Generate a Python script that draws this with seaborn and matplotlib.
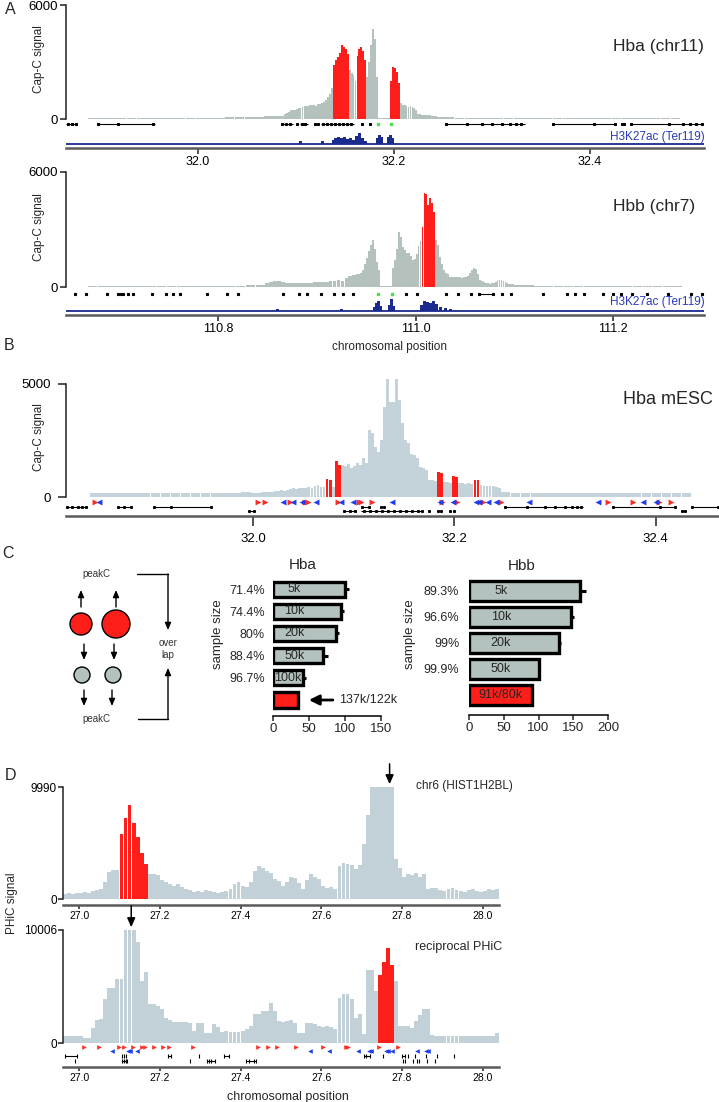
import numpy as np
import pandas as pd
import matplotlib
matplotlib.use("Agg")
import matplotlib.pyplot as plt
import seaborn as sns
from matplotlib.patches import Circle

sns.set_theme(style="ticks")
plt.rcParams["font.family"] = ["Liberation Sans", "DejaVu Sans"]

# ======================= DATA =======================
# ---- Panel A, Hba (chr11) Cap-C signal: (start Mb, bin Mb, values)
hba_left_start, hba_left_bin = 31.888, 0.01
hba_left = [45, 45, 50, 45, 50, 50, 50, 55, 55, 60, 60, 65, 70, 75, 80, 90, 100, 120, 150, 180]
hba_core_start, hba_core_bin = 32.088, 0.002
hba_core = [250, 300, 380, 450, 470, 500,
            540, 560, 600, 640, 660, 680,
            700, 720, 740, 760, 700, 780,
            800, 820, 900, 1000, 1170, 1300, 1610,
            2840, 3100, 3270, 3500, 3890, 3800, 3680, 3400,
            2580, 2400, 2300, 2000,
            3300, 3700, 3790, 3600, 3100,
            2200, 3000, 3900, 4740, 4200, 2200,
            60, 50, 50, 60, 50, 60,
            2000, 2740, 2700, 2500, 1900,
            850, 760, 740, 700, 640, 660, 620, 560, 500,
            260, 240, 230, 220, 210, 200, 200, 180, 160, 150, 130, 110, 100, 90]
hba_right_start, hba_right_bin = 32.252, 0.01
hba_right = [80, 75, 70, 70, 65, 65, 60, 60, 60, 55, 55, 55, 55, 50, 50, 50, 50, 50, 50, 45, 45, 45, 45, 45]
hba_red = [(32.138, 32.154), (32.162, 32.172), (32.196, 32.206)]
hba_xticks = [32.0, 32.2, 32.4]
hba_chip_pos = [32.105, 32.127, 32.138, 32.141, 32.144, 32.147, 32.150, 32.153, 32.156, 32.159,
                32.162, 32.165, 32.168, 32.171, 32.183, 32.185, 32.187, 32.195, 32.197, 32.199]
hba_chip_val = [3, 3, 4, 6, 7, 6, 7, 5, 6, 4, 8, 11, 6, 3, 6, 9, 7, 7, 9, 6]
hba_gene_lines = [(31.866, 31.877), (31.898, 31.957), (32.085, 32.097), (32.104, 32.113),
                  (32.119, 32.124), (32.126, 32.159), (32.252, 32.334), (32.361, 32.426),
                  (32.441, 32.516)]
hba_gene_exons = [31.868, 31.872, 31.876, 31.899, 31.919, 31.955, 32.086, 32.090, 32.094,
                  32.101, 32.106, 32.110, 32.120, 32.123, 32.128, 32.132, 32.136, 32.140,
                  32.144, 32.148, 32.152, 32.156, 32.168, 32.176, 32.253, 32.275, 32.290,
                  32.300, 32.310, 32.318, 32.324, 32.330, 32.362, 32.404, 32.425, 32.432,
                  32.434, 32.442, 32.480, 32.495, 32.502, 32.508, 32.514]
hba_gene_green = [32.184, 32.197]

# ---- Panel A, Hbb (chr7)
hbb_left_start, hbb_left_bin = 110.668, 0.01
hbb_left = [40, 45, 45, 50, 50, 50, 55, 50, 50, 55, 50, 55, 60, 60, 65, 70, 90, 120]
hbb_mid_start, hbb_mid_bin = 110.848, 0.004
hbb_mid = [200, 260, 300, 310, 280, 220, 200, 210, 200, 220, 230, 220, 240, 250, 260, 240,
           300, 320, 340, 330, 450, 600, 650, 700]
hbb_core_start, hbb_core_bin = 110.944, 0.002
hbb_core = [730, 900, 1200, 1500, 1900, 2200, 2450,
            2000, 1300, 890,
            40, 40, 40, 40, 40, 40,
            1000, 1400, 2000, 2870, 2600, 2100, 1930,
            1800, 1770, 1600, 1400, 1450, 1700, 2140, 2400,
            3130, 4900, 4850, 4300, 4640, 4380, 3900,
            2450, 2200, 1560, 1200, 900, 730, 700,
            520, 520, 500, 540, 520, 500, 480, 500, 520, 560,
            750, 900, 990, 950, 700,
            360, 300, 250, 200, 200, 180, 200, 220,
            280, 340, 360, 350, 300, 250, 200,
            150, 150, 140, 130, 120, 110, 100, 90]
hbb_right_start, hbb_right_bin = 111.110, 0.01
hbb_right = [80, 70, 60, 60, 55, 55, 50, 50, 50, 50, 45, 45, 45, 45, 45, 40]
hbb_red = [(111.006, 111.020)]
hbb_xticks = [110.8, 111.0, 111.2]
hbb_chip_pos = [110.860, 110.925, 110.958, 110.960, 110.962, 110.964, 110.974, 110.976, 110.978,
                111.006, 111.009, 111.012, 111.015, 111.018, 111.021, 111.025, 111.030, 111.035]
hbb_chip_val = [2, 2, 4, 8, 10, 5, 6, 12, 5, 6, 10, 9, 8, 10, 7, 4, 3, 2]
hbb_gene_dots = [110.655, 110.666, 110.688, 110.699, 110.702, 110.704, 110.709, 110.714,
                 110.733, 110.747, 110.754, 110.761, 110.789, 110.809, 110.820, 110.866,
                 110.882, 110.890, 110.904, 110.917, 110.926, 110.937, 110.990, 111.001,
                 111.031, 111.043, 111.056, 111.064, 111.078, 111.087, 111.097, 111.129,
                 111.153, 111.161, 111.171, 111.190, 111.200, 111.208, 111.219, 111.234,
                 111.256, 111.279, 111.290]
hbb_gene_lines = [(111.064, 111.078)]
hbb_gene_green = [110.962, 110.976]

# ---- Panel B, Hba mESC
mesc_left_start, mesc_left_bin = 31.838, 0.01
mesc_left = [180, 180, 170, 180, 170, 180, 180, 170, 180, 180, 190, 180, 190, 180, 190, 200, 190, 200]
mesc_core_start, mesc_core_bin = 32.018, 0.003
mesc_core = [220, 260, 260, 300, 280, 320,
             360, 380, 370, 390, 380, 400, 420, 380,
             490, 520, 460, 450,
             800, 760,
             450,
             1580, 1400,
             1400, 1350, 1450, 1300, 1350, 1500, 1400,
             1720, 1500,
             2960, 2800,
             2200, 2000,
             2500, 3980,
             5200, 4200,
             4200, 5200,
             4290, 3270,
             2500, 2400,
             1900, 1860, 1700,
             1330, 1300, 1200,
             750, 760, 700,
             1100, 1050,
             660, 650, 620,
             930, 900,
             600, 620, 580, 600, 590,
             750, 740,
             520, 500, 480, 500, 470, 450, 400]
mesc_right_start, mesc_right_bin = 32.246, 0.01
mesc_right = [200, 190, 180, 180, 170, 180, 190, 180, 180, 170, 180, 160, 170, 180, 170, 170, 160, 170, 160]
mesc_red = [(32.072, 32.078), (32.081, 32.087), (32.183, 32.189), (32.198, 32.204), (32.219, 32.225)]
mesc_xticks = [32.0, 32.2, 32.4]
mesc_motif_fwd = [31.843, 32.005, 32.012, 32.037, 32.052, 32.055, 32.084, 32.105, 32.107, 32.118,
                  32.188, 32.203, 32.228, 32.246, 32.353, 32.378, 32.403, 32.415]
mesc_motif_rev = [31.847, 32.030, 32.040, 32.049, 32.062, 32.087, 32.099, 32.138, 32.186, 32.199,
                  32.221, 32.224, 32.233, 32.241, 32.274, 32.343, 32.387, 32.400]
mesc_gene_lines_up = [(31.814, 31.835), (31.865, 31.880), (31.900, 31.959), (32.107, 32.116),
                      (32.126, 32.131), (32.249, 32.328), (32.357, 32.420), (32.435, 32.463)]
mesc_gene_exons_up = [31.815, 31.820, 31.826, 31.830, 31.834, 31.866, 31.872, 31.879, 31.901,
                      31.918, 31.958, 32.108, 32.115, 32.127, 32.130, 32.250, 32.272, 32.290,
                      32.300, 32.310, 32.317, 32.322, 32.326, 32.358, 32.404, 32.419, 32.436, 32.462]
mesc_gene_lines_lo = [(31.995, 32.002), (32.089, 32.102), (32.107, 32.169), (32.425, 32.430)]
mesc_gene_exons_lo = [31.996, 32.001, 32.090, 32.096, 32.101, 32.110, 32.116, 32.122, 32.128,
                      32.134, 32.140, 32.146, 32.152, 32.158, 32.164, 32.168, 32.175, 32.184,
                      32.187, 32.196, 32.200, 32.426, 32.429]

# ---- Panel C, peak fragments per sample size
hba_cat = ["5k", "10k", "20k", "50k", "100k", "137k/122k"]
hba_frag = [100, 95, 88, 70, 42, 35]
hba_err = [5, 4, 4, 6, 4, 0]
hba_pct = ["71.4%", "74.4%", "80%", "88.4%", "96.7%", ""]
hbb_cat = ["5k", "10k", "20k", "50k", "91k/80k"]
hbb_frag = [159, 147, 130, 100, 90]
hbb_err = [10, 4, 2, 1, 0]
hbb_pct = ["89.3%", "96.6%", "99%", "99.9%", ""]

# ---- Panel D, PHiC signal (bins of 0.01 Mb from 26.96 Mb)
phic_start, phic_bin = 26.96, 0.01
phic_top = [450, 500, 450, 500,
            500, 600, 550, 700, 800,
            900, 1500,
            2400, 2600, 2600,
            5800, 7200, 8350, 6800, 5500, 4100, 3100,
            2200, 2200, 2100,
            1700, 1500, 1300,
            1200, 1300, 1100, 900, 800,
            600, 700, 600, 800, 700, 600,
            500, 600, 700, 900, 1300, 1500,
            1200, 1100, 1500,
            2500, 2900, 2800, 2500, 2300,
            1800, 1600, 1200,
            1500, 2000, 1900,
            1400, 900, 1700,
            2200, 2000, 1800,
            1200, 1000, 1100, 900,
            2900, 3200, 3100, 3000,
            2700, 3000,
            4900, 7500,
            9990, 9990, 9990, 9990, 9990, 9990,
            3600,
            2800, 2000,
            2200, 2100, 2300, 2000, 2200,
            900, 1000,
            1000, 800, 700, 900, 1000, 800, 700, 600, 800, 900, 700, 600, 700, 900, 800, 900]
phic_top_red = [(27.10, 27.17)]
phic_bot = [620, 620, 650, 600, 620,
            450, 450,
            1340,
            2000, 2140,
            3930,
            4900, 4900,
            5700, 5700,
            10006, 10006, 10006,
            8900,
            5500, 6250,
            3480, 3480, 3300, 3000,
            2230, 2000,
            1870, 1900, 1850, 1870, 1800,
            1070,
            1790, 1790,
            900, 900,
            1700, 1400,
            1000, 1050, 1000, 950, 1000, 1100, 1200,
            1500, 2590, 2590, 2860, 2860, 3570, 2800,
            1960, 1900, 1960, 2000, 1800,
            890, 890,
            1790, 1800, 1700,
            1500, 1450, 1500, 1400, 1200,
            4000, 4380, 4300, 3900,
            2230, 2590, 800,
            6430, 6430, 4640,
            5980, 7140, 8390, 6870,
            5530,
            1520, 1520, 1500, 1340,
            1960, 2500, 3040, 3040,
            700, 650, 620, 600, 620, 650, 600, 580, 600, 620, 650, 600, 620, 600, 580, 600, 890]
phic_bot_red = [(27.74, 27.78)]
phic_xticks = [27.0, 27.2, 27.4, 27.6, 27.8, 28.0]
phic_motif_fwd = [27.012, 27.049, 27.099, 27.111, 27.134, 27.156, 27.163, 27.186, 27.208, 27.223,
                  27.283, 27.444, 27.469, 27.491, 27.536, 27.603, 27.660, 27.667, 27.742, 27.791]
phic_motif_rev = [27.082, 27.121, 27.126, 27.144, 27.573, 27.618, 27.690, 27.717, 27.722,
                  27.759, 27.764, 27.776, 27.838, 27.858, 27.863]
phic_gene_lines_1 = [(26.965, 26.995), (27.221, 27.228), (27.360, 27.372), (27.705, 27.720),
                     (27.799, 27.806)]
phic_gene_ticks_1 = [26.965, 26.995, 27.106, 27.111, 27.116, 27.221, 27.228, 27.298, 27.360,
                     27.372, 27.705, 27.710, 27.720, 27.752, 27.799, 27.806, 27.814, 27.831,
                     27.859, 27.886, 27.928]
phic_gene_lines_2 = [(27.106, 27.119), (27.317, 27.337), (27.414, 27.439)]
phic_gene_ticks_2 = [26.990, 27.106, 27.110, 27.116, 27.119, 27.275, 27.317, 27.322, 27.327,
                     27.337, 27.414, 27.420, 27.434, 27.439, 27.801, 27.806, 27.826, 27.838,
                     27.841, 27.862, 27.881]

# ======================= STYLE =======================
GRAY_A = "#b5c1bd"
GRAY_B = "#c4d3da"
GRAY_D = "#c2d0d8"
BAR_GRAY = "#b4c2bf"
RED = "#ff1f1a"
NAVY = "#1b2a8f"
MOT_RED = "#ff2a22"
MOT_BLUE = "#1f3cf0"
GREEN = "#4be04b"
AXGRAY = "#5a5a5a"

W, H = 719, 1102
fig = plt.figure(figsize=(W / 100, H / 100), dpi=100)


def pax(x0, y0, x1, y1):
    ax = fig.add_axes([x0 / W, 1 - y1 / H, (x1 - x0) / W, (y1 - y0) / H])
    ax.patch.set_alpha(0)
    for s in ax.spines.values():
        s.set_visible(False)
    ax.set_xticks([])
    ax.set_yticks([])
    return ax


def draw_track(ax, segments, red, base, frac=0.96):
    for start, step, vals in segments:
        vals = np.asarray(vals, float)
        x = start + step * np.arange(len(vals))
        c = x + step / 2
        is_red = np.zeros(len(vals), bool)
        for a, b in red:
            is_red |= (c > a) & (c < b)
        cols = np.where(is_red, RED, base)
        ax.bar(x, vals, width=step * frac, align="edge", color=cols, linewidth=0)


def left_axis(ax, ticks, labels, fs=9.5, tl=4.0, pad=1.5, bounds=None):
    ax.spines["left"].set_visible(True)
    ax.spines["left"].set_color("#222222")
    ax.spines["left"].set_linewidth(1.1)
    if bounds is not None:
        ax.spines["left"].set_bounds(*bounds)
    ax.set_yticks(ticks)
    ax.set_yticklabels(labels, fontsize=fs)
    ax.tick_params(axis="y", length=tl, width=1.1, pad=pad, color="#222222", labelcolor="black")


def bottom_axis(ax, ticks, fs=9, tl=4.0, pad=2.0, lw=1.8):
    ax.spines["bottom"].set_visible(True)
    ax.spines["bottom"].set_color(AXGRAY)
    ax.spines["bottom"].set_linewidth(lw)
    ax.set_xticks(ticks)
    ax.set_xticklabels([f"{t:.1f}" for t in ticks], fontsize=fs)
    ax.tick_params(axis="x", length=tl, width=1.2, pad=pad, color="#333333", labelcolor="black")


def draw_genes(ax, lines, exons, y, marker="s", ms=1.4, lw=0.8):
    for a, b in lines:
        ax.plot([a, b], [y, y], color="black", lw=lw, solid_capstyle="butt")
    ax.plot(exons, [y] * len(exons), ls="none", marker=marker, ms=ms, color="black", mew=0.8)


# ---------------- Panel A: Hba ----------------
xl = (31.866, 32.516)
ax = pax(66, 5, 704, 119)
ax.set_xlim(*xl); ax.set_ylim(0, 6000)
draw_track(ax, [(hba_left_start, hba_left_bin, hba_left),
                (hba_core_start, hba_core_bin, hba_core),
                (hba_right_start, hba_right_bin, hba_right)], hba_red, GRAY_A)
left_axis(ax, [0, 6000], ["0", "6000"])

g = pax(66, 119, 704, 129)
g.set_xlim(*xl); g.set_ylim(0, 1)
draw_genes(g, hba_gene_lines, hba_gene_exons, 0.5)
g.plot(hba_gene_green, [0.5] * 2, ls="none", marker="s", ms=1.6, color=GREEN)

c = pax(66, 129, 704, 148)
c.set_xlim(*xl); c.set_ylim(-4, 15)
c.axhline(0, color=NAVY, lw=1.3)
c.bar(hba_chip_pos, hba_chip_val, width=0.003, color=NAVY, linewidth=0)
bottom_axis(c, hba_xticks)

# ---------------- Panel A: Hbb ----------------
xl = (110.646, 111.292)
ax = pax(66, 172, 704, 287)
ax.set_xlim(*xl); ax.set_ylim(0, 6000)
draw_track(ax, [(hbb_left_start, hbb_left_bin, hbb_left),
                (hbb_mid_start, hbb_mid_bin, hbb_mid),
                (hbb_core_start, hbb_core_bin, hbb_core),
                (hbb_right_start, hbb_right_bin, hbb_right)], hbb_red, GRAY_A)
left_axis(ax, [0, 6000], ["0", "6000"])

g = pax(66, 288, 704, 300)
g.set_xlim(*xl); g.set_ylim(0, 1)
draw_genes(g, hbb_gene_lines, hbb_gene_dots, 0.5, ms=1.6)
g.plot(hbb_gene_green, [0.5] * 2, ls="none", marker="s", ms=1.6, color=GREEN)

c = pax(66, 296, 704, 315)
c.set_xlim(*xl); c.set_ylim(-4, 15)
c.axhline(0, color=NAVY, lw=1.3)
c.bar(hbb_chip_pos, hbb_chip_val, width=0.003, color=NAVY, linewidth=0)
bottom_axis(c, hbb_xticks)

# ---------------- Panel B ----------------
xl = (31.814, 32.462)
ax = pax(66, 379, 718, 497)
ax.set_xlim(*xl); ax.set_ylim(0, 5200)
draw_track(ax, [(mesc_left_start, mesc_left_bin, mesc_left),
                (mesc_core_start, mesc_core_bin, mesc_core),
                (mesc_right_start, mesc_right_bin, mesc_right)], mesc_red, GRAY_B)
left_axis(ax, [0, 5000], ["0", "5000"], tl=6, pad=5, bounds=(0, 5000))

m = pax(66, 497, 718, 506)
m.set_xlim(*xl); m.set_ylim(0, 1)
m.scatter(mesc_motif_fwd, [0.5] * len(mesc_motif_fwd), marker=">", s=18, color=MOT_RED, linewidths=0)
m.scatter(mesc_motif_rev, [0.5] * len(mesc_motif_rev), marker="<", s=18, color=MOT_BLUE, linewidths=0)

g = pax(66, 504, 718, 516)
g.set_xlim(*xl); g.set_ylim(0, 12)
draw_genes(g, mesc_gene_lines_up, mesc_gene_exons_up, 9, ms=1.3)
draw_genes(g, mesc_gene_lines_lo, mesc_gene_exons_lo, 5, ms=1.3)
bottom_axis(g, mesc_xticks, fs=9.5, tl=7.5, pad=5)


# ---------------- Panel C bar charts ----------------
def bar_panel(box, cats, frag, err, pct, colors, xmax, xt, bar_w, ylim, pad):
    ax = pax(*box)
    df = pd.DataFrame({"size": cats, "frag": frag})
    pal = dict(zip(cats, colors))
    ax.errorbar(frag, np.arange(len(frag)), xerr=err, fmt="none", ecolor="black",
                elinewidth=2.2, capsize=0, zorder=0.5)
    sns.barplot(data=df, x="frag", y="size", hue="size", palette=pal, orient="h",
                width=bar_w, edgecolor="black", linewidth=2.4, legend=False, ax=ax,
                errorbar=None, saturation=1, zorder=1)
    ax.set_xlim(0, xmax)
    ax.set_ylim(*ylim)
    ax.spines["bottom"].set_visible(True)
    ax.spines["bottom"].set_color("black")
    ax.spines["bottom"].set_linewidth(1.1)
    ax.set_xticks(xt)
    ax.set_xticklabels([str(t) for t in xt], fontsize=9.5)
    ax.tick_params(axis="x", length=3.5, width=1.1, pad=1.5)
    ax.set_yticks(np.arange(len(cats)))
    ax.set_yticklabels(pct, fontsize=9)
    ax.tick_params(axis="y", length=0, pad=pad)
    ax.set_xlabel("peak fragments", fontsize=9.5, labelpad=1)
    ax.set_ylabel("")
    return ax


hba_colors = [BAR_GRAY] * 5 + [RED]
ax = bar_panel((273, 578, 381, 716), hba_cat, hba_frag, hba_err, hba_pct, hba_colors,
               150, [0, 50, 100, 150], 0.68, (5.72, -0.5), 6)
for i, (lab, v) in enumerate(zip(hba_cat[:5], hba_frag[:5])):
    ax.text(min(30, v / 2), i, lab, ha="center", va="center", fontsize=9)
ax.annotate("", xy=(46, 5), xytext=(87, 5),
            arrowprops=dict(arrowstyle="-|>,head_length=0.5,head_width=0.25", lw=2.0, color="black"))
ax.text(92, 5, hba_cat[5], ha="left", va="center", fontsize=9)

hbb_colors = [BAR_GRAY] * 4 + [RED]
ax = bar_panel((469, 578, 608, 715), hbb_cat, hbb_frag, hbb_err, hbb_pct, hbb_colors,
               200, [0, 50, 100, 150, 200], 0.75, (4.77, -0.5), 7)
for i, (lab, v) in enumerate(zip(hbb_cat, hbb_frag)):
    ax.text(min(46, v / 2), i, lab, ha="center", va="center", fontsize=9)

# ---------------- Panel D ----------------
xl = (26.96, 28.04)
ax = pax(63, 787, 499, 905)
ax.set_xlim(*xl); ax.set_ylim(-535, 9990)
draw_track(ax, [(phic_start, phic_bin, phic_top)], phic_top_red, GRAY_D, frac=0.96)
left_axis(ax, [0, 9990], ["0", "9990"], fs=8.5, tl=3.5, pad=1, bounds=(0, 9990))
bottom_axis(ax, phic_xticks, fs=7.5, tl=3.0, pad=1.5)
ax.annotate("", xy=(27.769, 9990), xytext=(27.769, 12300),
            arrowprops=dict(arrowstyle="-|>,head_length=0.45,head_width=0.2", lw=1.1, color="black"),
            annotation_clip=False)

ax = pax(63, 930, 499, 1043)
ax.set_xlim(*xl); ax.set_ylim(0, 10006)
draw_track(ax, [(phic_start, phic_bin, phic_bot)], phic_bot_red, GRAY_D, frac=0.96)
left_axis(ax, [0, 10006], ["0", "10006"], fs=8.5, tl=3.5, pad=1)
ax.annotate("", xy=(27.129, 10006), xytext=(27.129, 12400),
            arrowprops=dict(arrowstyle="-|>,head_length=0.45,head_width=0.2", lw=1.1, color="black"),
            annotation_clip=False)

m = pax(63, 1043, 499, 1054)
m.set_xlim(*xl); m.set_ylim(0, 11)
m.scatter(phic_motif_fwd, [7] * len(phic_motif_fwd), marker=">", s=11, color=MOT_RED, linewidths=0)
m.scatter(phic_motif_rev, [3] * len(phic_motif_rev), marker="<", s=11, color=MOT_BLUE, linewidths=0)

g = pax(63, 1053, 499, 1067)
g.set_xlim(*xl); g.set_ylim(0, 14)
draw_genes(g, phic_gene_lines_1, phic_gene_ticks_1, 11, marker="|", ms=3.0, lw=0.8)
draw_genes(g, phic_gene_lines_2, phic_gene_ticks_2, 6, marker="|", ms=3.0, lw=0.8)
bottom_axis(g, phic_xticks, fs=7.5, tl=3.0, pad=1.5)

# ---------------- overlay: labels & schematic ----------------
ov = fig.add_axes([0, 0, 1, 1])
ov.set_xlim(0, W); ov.set_ylim(H, 0); ov.axis("off"); ov.patch.set_alpha(0)

for lab, (x, y) in {"A": (10, 9), "B": (9, 345), "C": (8, 554), "D": (10, 775)}.items():
    ov.text(x, y, lab, fontsize=11.5, ha="center", va="center")

for y in (59, 227, 437):
    ov.text(39, y, "Cap-C signal", rotation=90, fontsize=8.5, ha="center", va="center")
ov.text(12, 903, "PHiC signal", rotation=90, fontsize=8.5, ha="center", va="center")

ov.text(613, 46, "Hba (chr11)", fontsize=12.5, ha="left", va="center")
ov.text(613, 207, "Hbb (chr7)", fontsize=12.5, ha="left", va="center")
ov.text(623, 400, "Hba mESC", fontsize=13, ha="left", va="center")
ov.text(705, 137, "H3K27ac (Ter119)", fontsize=8.5, ha="right", va="center", color="#2a3ab8")
ov.text(705, 302, "H3K27ac (Ter119)", fontsize=8.5, ha="right", va="center", color="#2a3ab8")
ov.text(390, 347, "chromosomal position", fontsize=8.5, ha="center", va="center")

ov.text(303, 565, "Hba", fontsize=11, ha="center", va="center")
ov.text(522, 566, "Hbb", fontsize=11, ha="center", va="center")
ov.text(218, 634, "sample size", rotation=90, fontsize=9.5, ha="center", va="center")
ov.text(410, 634, "sample size", rotation=90, fontsize=9.5, ha="center", va="center")

ov.text(416, 786, "chr6 (HIST1H2BL)", fontsize=8.5, ha="left", va="center")
ov.text(415, 947, "reciprocal PHiC", fontsize=9, ha="left", va="center")
ov.text(288, 1097, "chromosomal position", fontsize=9, ha="center", va="center")

# schematic (panel C, left)
arr = dict(arrowstyle="-|>,head_length=0.35,head_width=0.15", lw=1.0, color="black",
           shrinkA=0, shrinkB=0)
ov.text(96, 574, "peakC", fontsize=7, ha="center", va="center", color="#333333")
ov.text(96, 719, "peakC", fontsize=7, ha="center", va="center", color="#333333")
for x in (81, 116):
    ov.annotate("", xy=(x, 590), xytext=(x, 607), arrowprops=arr)
ov.add_patch(Circle((81, 624), 11, fc=RED, ec="black", lw=1.0))
ov.add_patch(Circle((116, 624), 14, fc=RED, ec="black", lw=1.0))
for x in (84, 114):
    ov.annotate("", xy=(x, 660), xytext=(x, 644), arrowprops=arr)
ov.add_patch(Circle((82, 675), 8, fc=BAR_GRAY, ec="black", lw=1.0))
ov.add_patch(Circle((113, 675), 8, fc=BAR_GRAY, ec="black", lw=1.0))
for x in (84, 112):
    ov.annotate("", xy=(x, 706), xytext=(x, 690), arrowprops=arr)
ov.plot([137, 168], [574, 574], color="black", lw=1.0)
ov.annotate("", xy=(168, 630), xytext=(168, 574), arrowprops=arr)
ov.plot([138, 168], [719, 719], color="black", lw=1.0)
ov.annotate("", xy=(168, 668), xytext=(168, 719), arrowprops=arr)
ov.text(168, 643, "over", fontsize=7, ha="center", va="center", color="#333333")
ov.text(168, 655, "lap", fontsize=7, ha="center", va="center", color="#333333")

fig.savefig("out.png", dpi=100)
